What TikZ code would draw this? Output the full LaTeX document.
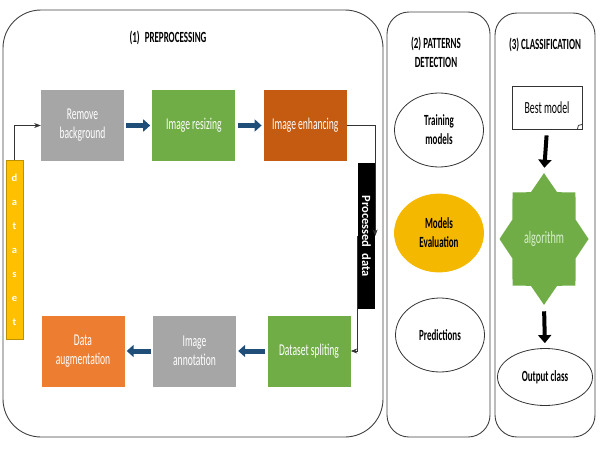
\documentclass[tikz,border=0pt]{standalone}
\usepackage{fontspec}
\setmainfont{Carlito}[FakeStretch=0.58]
\newfontfamily\plainfont{Carlito}
\usetikzlibrary{shapes.geometric,arrows.meta,positioning}
\definecolor{boxgray}{HTML}{A6A6A6}
\definecolor{boxgreen}{HTML}{70AD47}
\definecolor{boxrust}{HTML}{C55A11}
\definecolor{boxorange}{HTML}{ED7D31}
\definecolor{arrowblue}{HTML}{1F4E79}
\definecolor{datayellow}{HTML}{FFC000}
\definecolor{evalgold}{HTML}{F5B800}
\definecolor{paleleaf}{HTML}{D9EFC8}
\tikzset{>=Stealth}
\tikzset{panel/.style={draw=black!75,line width=0.9pt,rounded corners=#1},
         title/.style={font=\bfseries\fontsize{15.5}{19}\selectfont,align=center},
         proc box/.style={rectangle,fill=#1,text=white,align=center,minimum width=83pt,minimum height=71pt,inner sep=2pt,font=\fontsize{16.5}{19}\selectfont},
         blue arrow/.style={draw=arrowblue,line width=5pt,-{Triangle[length=7pt,width=12pt]},shorten <=2pt,shorten >=2pt},
         black arrow/.style={draw=black,line width=4pt,-{Triangle[length=8pt,width=13pt]},shorten <=6pt,shorten >=5pt},
         flow line/.style={draw=black!80,line width=0.8pt,->},
         phase ellipse/.style={ellipse,draw=black!80,line width=0.8pt,minimum width=89pt,minimum height=74pt,align=center,font=\bfseries\fontsize{15.5}{19}\selectfont},
            }

\begin{document}
\begin{tikzpicture}[x=1pt,y=-1pt]
    \useasboundingbox (0,0) rectangle (600,450);

    % three phases
    \draw[panel=38pt] (3,10) rectangle (383,437);
    \draw[panel=22pt] (387,12) rectangle (490,437);
    \draw[panel=22pt] (495,13) rectangle (595,437);

    \node[title] (t1) at (168,38) {(1)\hspace{5pt}PREPROCESSING};
    \node[title] (t2) at (436,52) {(2) PATTERNS\\DETECTION};
    \node[title] (t3) at (545,45) {(3) CLASSIFICATION};

    % preprocessing
    \node[proc box=boxgray] (rb) at (82.5,125.5) {Remove\\background};
    \node[proc box=boxgreen, right=28pt of rb] (ir) {Image resizing};
    \node[proc box=boxrust, right=28pt of ir] (ie) {Image enhancing};
    \node[proc box=boxgreen] (dsp) at (309,351) {Dataset spliting};
    \node[proc box=boxgray] (ia) at (194.5,351) {Image\\annotation};
    \node[proc box=boxorange] (da) at (83,351) {Data\\augmentation};

    \node[rectangle,fill=datayellow,draw=datayellow!75!black,minimum width=17pt,minimum height=179pt,inner sep=0pt,
          align=center,text=white,font=\plainfont\bfseries\fontsize{10.5}{24}\selectfont] (ds) at (14.5,249.5) {d\\a\\t\\a\\s\\e\\t};
    \node[rectangle,fill=black,rotate=-90,minimum width=146pt,minimum height=17pt,inner sep=0pt,
          text=white,font=\plainfont\bfseries\fontsize{12.5}{13}\selectfont] (pd) at (366.5,236) {Processed\ \ data};

    \draw[flow line] (ds.north) |- (rb.west);
    \draw[flow line] (ie.east) -| (pd.north);
    \draw[flow line] (pd.south) |- (dsp.east);

    \draw[blue arrow] (rb.east) -- (ir.west);
    \draw[blue arrow] (ir.east) -- (ie.west);
    \draw[blue arrow] (dsp.west) -- (ia.east);
    \draw[blue arrow] (ia.west) -- (da.east);

    % patterns detection
    \node[phase ellipse] (tm) at (439,130) {Training\\models};
    \node[phase ellipse,fill=evalgold,draw=evalgold,minimum height=78pt] (me) at (439,233) {Models\\Evaluation};
    \node[phase ellipse] (pr) at (440,335) {Predictions};

    % classification
    \node[rectangle,draw=black!80,line width=0.8pt,minimum width=70pt,minimum height=43pt,
          font=\fontsize{17}{19}\selectfont] (bm) at (547,107.5) {Best model};
    \draw[black!80,line width=0.8pt] ([xshift=-5pt]bm.south east) -- ([xshift=-4pt,yshift=4pt]bm.south east) -- ([yshift=5pt]bm.south east);
    \node[star,star points=8,star point ratio=1.3,fill=boxgreen,minimum size=89pt,inner sep=0pt,
          yscale=1.48,transform shape] (al) at (544,239) {};
    \node[text=paleleaf,font=\fontsize{17.5}{19}\selectfont] (alt) at (al) {algorithm};
    \node[phase ellipse,minimum width=95pt,minimum height=57pt] (oc) at (545,377) {Output class};

    \draw[black arrow] (bm.south) -- (al.north);
    \draw[black arrow] (al.south) -- (oc.north);

\end{tikzpicture}
\end{document}
